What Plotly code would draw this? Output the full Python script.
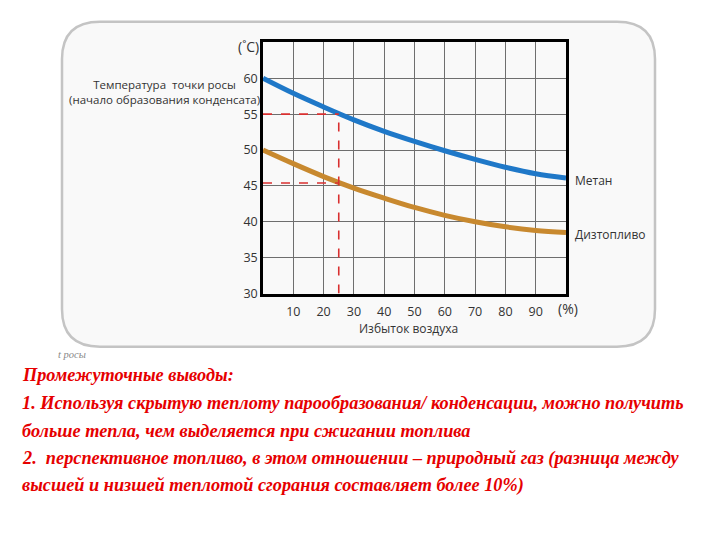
import plotly.graph_objects as go

# ---- data ----
excess_air = [0, 10, 20, 30, 40, 50, 60, 70, 80, 90, 100]
methane = [60.0, 57.9, 56.0, 54.2, 52.6, 51.2, 49.9, 48.7, 47.6, 46.7, 46.1]
diesel = [50.0, 48.1, 46.3, 44.7, 43.3, 42.0, 40.9, 40.0, 39.3, 38.8, 38.5]
x_ticks = [10, 20, 30, 40, 50, 60, 70, 80, 90]
y_ticks = [30, 35, 40, 45, 50, 55, 60]
marker_x = 25
marker_methane = 55
marker_diesel = 45.4

W, H = 720, 540
def px(x): return x / W
def py(y): return 1 - y / H

fig = go.Figure()

# curves
fig.add_trace(go.Scatter(x=excess_air, y=methane, mode="lines", line=dict(color="#1f78c8", width=5, shape="spline"), showlegend=False, hoverinfo="skip"))
fig.add_trace(go.Scatter(x=excess_air, y=diesel, mode="lines", line=dict(color="#c8892f", width=5, shape="spline"), showlegend=False, hoverinfo="skip"))

# dashed guide lines
dash = dict(color="#d93030", width=1.6, dash="dash")
fig.add_trace(go.Scatter(x=[0, marker_x], y=[marker_methane, marker_methane], mode="lines", line=dash, showlegend=False, hoverinfo="skip"))
fig.add_trace(go.Scatter(x=[0, marker_x], y=[marker_diesel, marker_diesel], mode="lines", line=dash, showlegend=False, hoverinfo="skip"))
fig.add_trace(go.Scatter(x=[marker_x, marker_x], y=[30, marker_methane], mode="lines", line=dash, showlegend=False, hoverinfo="skip"))

# rounded rectangle panel
x0, x1, y0, y1, r = 62, 655, 22, 352, 38
path = (f"M {px(x0+r)},{py(y0)} L {px(x1-r)},{py(y0)} Q {px(x1)},{py(y0)} {px(x1)},{py(y0+r)} "
        f"L {px(x1)},{py(y1-r)} Q {px(x1)},{py(y1)} {px(x1-r)},{py(y1)} "
        f"L {px(x0+r)},{py(y1)} Q {px(x0)},{py(y1)} {px(x0)},{py(y1-r)} "
        f"L {px(x0)},{py(y0+r)} Q {px(x0)},{py(y0)} {px(x0+r)},{py(y0)} Z")
fig.add_shape(type="path", path=path, xref="paper", yref="paper",
              fillcolor="#f9f9f9", line=dict(color="#c4c4c4", width=2.5), layer="below")

axis_font = dict(family="Open Sans, sans-serif", size=12.5, color="#333333")
fig.update_xaxes(range=[0, 100], tickvals=x_ticks, showgrid=True, gridcolor="#6e6e6e", gridwidth=1,
                 showline=True, linecolor="black", linewidth=2.5, mirror=True, zeroline=False,
                 ticks="", tickfont=axis_font, ticklabelstandoff=5, domain=[px(263), px(566)])
fig.update_yaxes(range=[30, 65], tickvals=y_ticks, showgrid=True, gridcolor="#6e6e6e", gridwidth=1,
                 showline=True, linecolor="black", linewidth=2.5, mirror=True, zeroline=False,
                 ticks="", tickfont=axis_font, domain=[py(298), py(43)])

ann = []
def text(x, y, s, size=12, color="#333333", xanchor="center", family="Open Sans, sans-serif", align="center", italic=False, bold=False):
    ann.append(dict(x=px(x), y=py(y), xref="paper", yref="paper", text=s, showarrow=False,
                    xanchor=xanchor, yanchor="middle", align=align,
                    font=dict(family=family, size=size, color=color,
                              style="italic" if italic else "normal",
                              weight="bold" if bold else "normal")))

text(248, 47, "(˚C)", size=14)
text(164, 93, "Температура  точки росы<br>(начало образования конденсата)", size=11.5)
text(568, 313, "(%)", size=14)
text(408, 333, "Избыток воздуха", size=12)
text(573, 183, "Метан", size=12, xanchor="left")
text(573, 238, "Дизтопливо", size=12, xanchor="left")
text(56, 360, "t росы", size=10.5, color="#888888", xanchor="left", family="Liberation Serif, serif", italic=True)

red = "#e60000"
lines = [
    (381, "Промежуточные выводы:"),
    (409, "1. Используя скрытую теплоту парообразования/ конденсации, можно получить"),
    (437, "больше тепла, чем выделяется при сжигании топлива"),
    (465, "2.  перспективное топливо, в этом отношении – природный газ (разница между"),
    (493, "высшей и низшей теплотой сгорания составляет более 10%)"),
]
for y, s in lines:
    text(20, y, s, size=18.3, color=red, xanchor="left", family="Liberation Serif, serif", italic=True, bold=True)

fig.update_layout(width=W, height=H, margin=dict(l=0, r=0, t=0, b=0),
                  paper_bgcolor="white", plot_bgcolor="rgba(0,0,0,0)", annotations=ann)

fig.write_html("out.html", config={"displayModeBar": False},
               post_script="document.body.style.margin='0';document.body.style.overflow='hidden';")
